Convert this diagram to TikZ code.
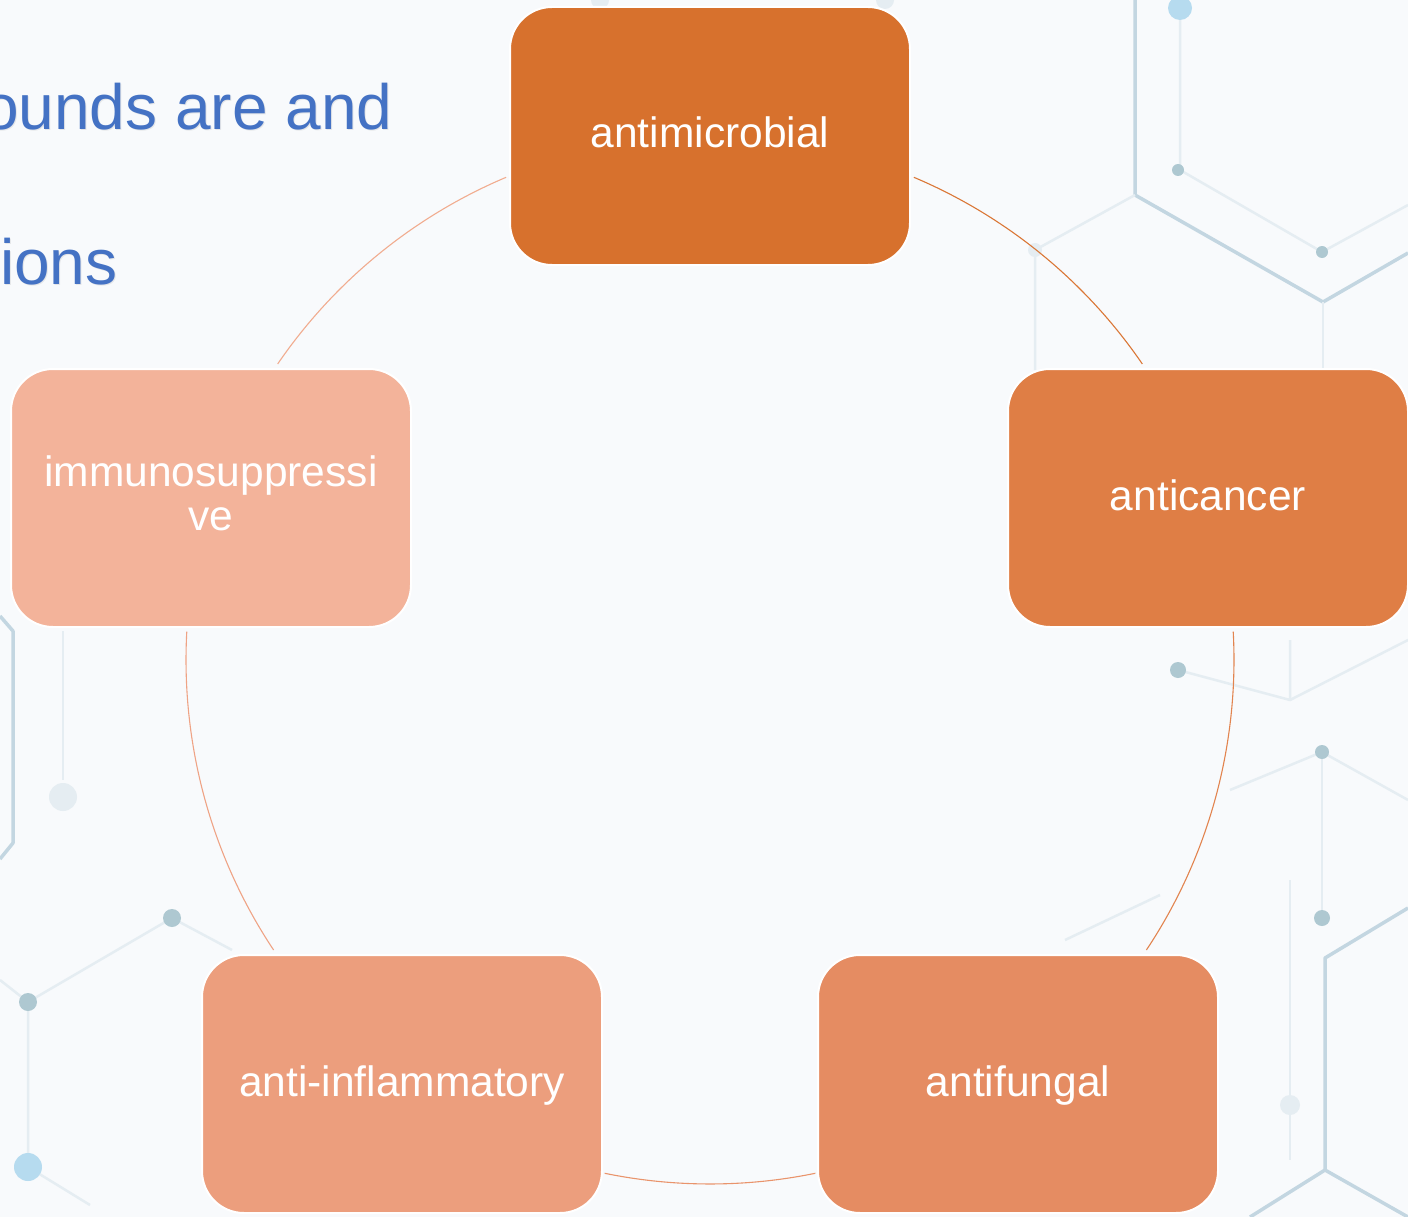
\documentclass[tikz,border=0pt]{standalone}
\usepackage{fontspec}
\setmainfont{Liberation Sans}
\definecolor{bgc}{HTML}{F8FAFC}
\definecolor{titleblue}{HTML}{4472C4}
\definecolor{cA}{HTML}{D7712D}
\definecolor{cB}{HTML}{DF7E45}
\definecolor{cC}{HTML}{E58C62}
\definecolor{cD}{HTML}{EC9E7D}
\definecolor{cE}{HTML}{F3B39A}
\definecolor{lA}{HTML}{DA7736}
\definecolor{lB}{HTML}{E2844F}
\definecolor{lC}{HTML}{E9946C}
\definecolor{lD}{HTML}{EFA385}
\definecolor{lE}{HTML}{F1AC8F}
\definecolor{hexdark}{HTML}{C3D6E1}
\definecolor{hexlight}{HTML}{E5EDF2}
\definecolor{dotgrey}{HTML}{AEC8D1}
\definecolor{dotblue}{HTML}{B6DBEF}
\begin{document}
\begin{tikzpicture}[x=1pt,y=-1pt,
  box/.style={draw=white, line width=2pt, rounded corners=42pt,
    minimum width=400pt, minimum height=258pt, inner sep=0pt,
    text=white, font=\fontsize{42.5}{44}\selectfont, align=center},
  oneline/.style={text height=32pt, text depth=8pt},
  link/.style={line width=1.1pt},
  title/.style={inner sep=0pt, text=titleblue, font=\fontsize{64}{70}\selectfont},
  tshadow/.style={inner sep=0pt, text=black!40, opacity=0.2, font=\fontsize{64}{70}\selectfont},
  hexthick/.style={draw=hexdark, line width=3.5pt, line join=round},
  hexthin/.style={draw=hexlight, line width=2.5pt, line join=round},
  atomg/.style={fill=dotgrey},
  atomb/.style={fill=dotblue}
]
\useasboundingbox (0,0) rectangle (1408,1217);
\clip (0,0) rectangle (1408,1217);
\fill[bgc] (0,0) rectangle (1408,1217);

% faint molecular lattice in the background
\begin{scope}
  % upper right
  \draw[hexthick] (1135,0) -- (1135,195) -- (1323,302) -- (1408,253);
  \draw[hexthin] (1180,8) -- (1180,170) -- (1322,252) -- (1408,205);
  \draw[hexthin] (1135,195) -- (1035,250) -- (1035,370);
  \draw[hexthin] (1323,302) -- (1323,372);
  \fill[atomb] (1180,8) circle (12);
  \fill[atomg] (1178,170) circle (6);
  \fill[atomg] (1322,252) circle (6);
  \fill[hexlight] (1035,250) circle (7);
  % right middle
  \draw[hexthin] (1290,640) -- (1290,700) -- (1178,670);
  \draw[hexthin] (1290,700) -- (1408,640);
  \draw[hexthin] (1322,752) -- (1322,918);
  \draw[hexthin] (1230,790) -- (1322,752) -- (1408,800);
  \fill[atomg] (1178,670) circle (8);
  \fill[atomg] (1322,752) circle (7);
  \fill[atomg] (1322,918) circle (8);
  % lower right
  \draw[hexthick] (1408,908) -- (1325,958) -- (1325,1170);
  \draw[hexthick] (1250,1217) -- (1325,1170) -- (1408,1217);
  \draw[hexthin] (1290,880) -- (1290,1160);
  \fill[hexlight] (1290,1105) circle (10);
  \draw[hexthin] (1065,940) -- (1160,895);
  % left side
  \draw[hexthick] (0,616) -- (13,631) -- (13,843) -- (0,859);
  \draw[hexthin] (63,631) -- (63,780);
  \fill[hexlight] (63,797) circle (14);
  \draw[hexthin] (28,1002) -- (172,918) -- (232,950);
  \draw[hexthin] (28,1002) -- (28,1167) -- (90,1205);
  \draw[hexthin] (0,980) -- (28,1002);
  \fill[atomg] (172,918) circle (9);
  \fill[atomg] (28,1002) circle (9);
  \fill[atomb] (28,1167) circle (14);
  % top edge
  \fill[hexlight] (600,0) circle (9);
  \fill[hexlight] (885,0) circle (9);
\end{scope}

% heading lines
\node[tshadow, anchor=base west] (t1s) at (-16,131) {ounds are and};
\node[tshadow, anchor=base west] (t2s) at (1,285) {ions};
\node[title, anchor=base west] (t1) at (-17,130) {ounds are and};
\node[title, anchor=base west] (t2) at (0,284) {ions};

% ring connecting the five activities
\coordinate (ctr) at (710,660);
\draw[link, lA] (ctr) ++(-67.1:524) arc[start angle=-67.1, end angle=-34.4, radius=524];
\draw[link, lB] (ctr) ++(-3.1:524) arc[start angle=-3.1, end angle=33.6, radius=524];
\draw[link, lC] (ctr) ++(78.4:524) arc[start angle=78.4, end angle=101.6, radius=524];
\draw[link, lD] (ctr) ++(146.4:524) arc[start angle=146.4, end angle=183.1, radius=524];
\draw[link, lE] (ctr) ++(214.4:524) arc[start angle=214.4, end angle=247.1, radius=524];

% activity boxes
\node[box, oneline, fill=cA] (n1) at (710,136) {antimicrobial};
\node[box, oneline, fill=cB] (n2) at (1208,498) {anticancer};
\node[box, oneline, fill=cC] (n3) at (1018,1084) {antifungal};
\node[box, oneline, fill=cD] (n4) at (402,1084) {anti-inflammatory};
\node[box, fill=cE] (n5) at (211,498) {immunosuppressi\\ve\rule[-10pt]{0pt}{0pt}};
\end{tikzpicture}
\end{document}
